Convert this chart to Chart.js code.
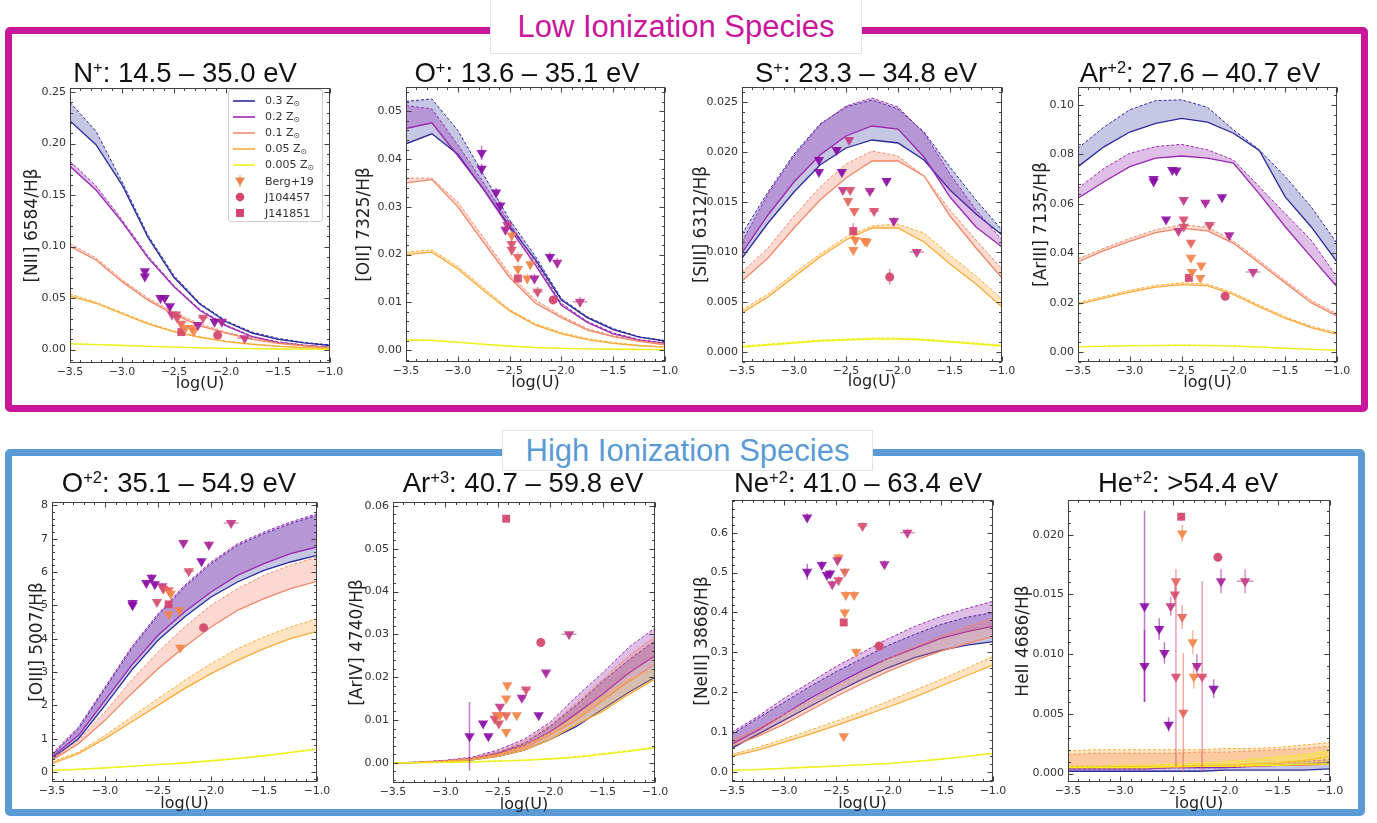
<!DOCTYPE html>
<html><head><meta charset="utf-8">
<script src="https://cdn.jsdelivr.net/npm/chart.js@4.4.1/dist/chart.umd.min.js"></script>
<style>
body{margin:0;width:1377px;height:823px;background:#fff;position:relative;overflow:hidden;font-family:'Liberation Sans',Arial,sans-serif}
.frame{position:absolute;box-sizing:border-box;border-radius:5px}
.hdr{position:absolute;box-sizing:border-box;background:#fff;border:1px solid #e2e2e2;display:flex;align-items:center;justify-content:center;font-size:31px;z-index:3}
.ttl{position:absolute;transform:translate(-50%,-50%);font-size:27.5px;color:#111;white-space:nowrap;line-height:1;z-index:4}
.ttl sup{font-size:60%;vertical-align:0.55em;line-height:0}
canvas{position:absolute;z-index:2}
#legend{position:absolute;box-sizing:border-box;border:1px solid #cfcfcf;border-radius:3px;background:rgba(255,255,255,0.9);font:11px 'DejaVu Sans',sans-serif;color:#333;z-index:5}
#legend .row{position:absolute;left:0;height:14px;display:flex;align-items:center}
#legend sub{font-size:70%;vertical-align:-0.25em}
</style></head><body>
<div class="frame" style="left:5px;top:27px;width:1363px;height:385px;border:7px solid #c8179b"></div>
<div class="frame" style="left:5px;top:449px;width:1360px;height:367px;border:7px solid #5b9bd5"></div>
<div class="hdr" style="left:490px;top:-1px;width:372px;height:55px;color:#c8179b">Low Ionization Species</div>
<div class="hdr" style="left:502px;top:430px;width:371px;height:41px;color:#5b9bd5">High Ionization Species</div>
<script>
// ---------------- DATA ----------------
const LOGU = [-3.5,-3.25,-3.0,-2.75,-2.5,-2.25,-2.0,-1.75,-1.5,-1.25,-1.0];
const X_TICKS = [-3.5,-3.0,-2.5,-2.0,-1.5,-1.0];
const METALS = ['0.3','0.2','0.1','0.05','0.005'];
const POINT_LABELS = ['Berg+19','J104457','J141851'];

// [NII] 6584/Hb  : [upper, lower] per metallicity
const NII_Z03  = [[0.240,0.212,0.163,0.111,0.072,0.045,0.028,0.017,0.011,0.007,0.0045],[0.222,0.199,0.160,0.109,0.070,0.044,0.027,0.016,0.010,0.0065,0.004]];
const NII_Z02  = [[0.183,0.159,0.126,0.091,0.062,0.039,0.024,0.013,0.0075,0.0045,0.0025],[0.178,0.155,0.124,0.089,0.061,0.038,0.023,0.0125,0.007,0.004,0.002]];
const NII_Z01  = [[0.103,0.089,0.068,0.050,0.036,0.025,0.017,0.011,0.0068,0.0042,0.002],[0.100,0.087,0.066,0.048,0.034,0.023,0.016,0.010,0.006,0.0037,0.0017]];
const NII_Z005 = [[0.054,0.046,0.036,0.026,0.018,0.0125,0.0082,0.0055,0.0035,0.002,0.0012],[0.052,0.045,0.035,0.025,0.0172,0.012,0.0078,0.0052,0.0032,0.0018,0.001]];
const NII_Z0005= [[0.006,0.0052,0.0043,0.0034,0.0026,0.0019,0.0014,0.001,0.0007,0.0005,0.0004],[0.0055,0.0048,0.004,0.0031,0.0024,0.0017,0.0012,0.0009,0.0006,0.0004,0.0003]];
const NII_YTICKS = [0,0.05,0.10,0.15,0.20,0.25];
// Berg+19 points: [logU, value, colour index, xerr, yerr]
const NII_BERG = [[-2.78,0.076,0,0.02,0.002],[-2.78,0.071,0,0.02,0.002],[-2.63,0.050,0,0.03,0.001],[-2.59,0.050,0,0.03,0.001],[-2.54,0.042,0,0.02,0.001],[-2.52,0.034,2,0.02,0.001],[-2.48,0.034,3,0.02,0.001],[-2.47,0.031,3,0.02,0.001],[-2.43,0.025,4,0.02,0.001],[-2.39,0.021,5,0.02,0.001],[-2.33,0.021,5,0.03,0.001],[-2.31,0.018,5,0.02,0.001],[-2.27,0.024,1,0.03,0.001],[-2.22,0.031,3,0.05,0.001],[-2.11,0.027,0,0.02,0.001],[-2.04,0.027,1,0.02,0.001],[-1.82,0.011,2,0.07,0.001]];
const NII_J104457 = [-2.08,0.014,0.01,0.001];
const NII_J141851 = [-2.43,0.017,0.01,0.001];

// [OII] 7325/Hb
const OII_Z03  = [[0.0521,0.0526,0.046,0.0367,0.0273,0.0196,0.0108,0.0070,0.0045,0.0028,0.0020],[0.0432,0.0453,0.041,0.0336,0.0259,0.0189,0.0105,0.0068,0.0043,0.0027,0.0019]];
const OII_Z02  = [[0.0512,0.0505,0.043,0.035,0.0266,0.0185,0.0098,0.006,0.0036,0.0022,0.0015],[0.0464,0.0476,0.0407,0.0336,0.0255,0.0178,0.0094,0.0058,0.0034,0.0021,0.0014]];
const OII_Z01  = [[0.036,0.036,0.031,0.0235,0.016,0.0105,0.0072,0.0045,0.003,0.002,0.0013],[0.035,0.0357,0.030,0.0225,0.0152,0.0098,0.0068,0.0042,0.0028,0.0018,0.0011]];
const OII_Z005 = [[0.0205,0.021,0.0175,0.013,0.0085,0.0055,0.0037,0.0024,0.0016,0.001,0.0007],[0.020,0.0205,0.017,0.0125,0.0082,0.0052,0.0034,0.0022,0.0014,0.0009,0.0006]];
const OII_Z0005= [[0.0022,0.0021,0.0017,0.0013,0.0009,0.0006,0.0004,0.0003,0.0002,0.00015,0.0001],[0.0021,0.002,0.0016,0.0012,0.0008,0.0005,0.00035,0.00025,0.00017,0.00012,0.00008]];
const OII_YTICKS = [0,0.01,0.02,0.03,0.04,0.05];
const OII_BERG = [[-2.77,0.0413,0,0.02,0.0015],[-2.77,0.038,0,0.02,0.001],[-2.63,0.033,0,0.02,0.001],[-2.59,0.0303,0,0.02,0.001],[-2.54,0.0252,1,0.02,0.001],[-2.52,0.0262,2,0.02,0.001],[-2.48,0.024,5,0.02,0.001],[-2.48,0.0222,3,0.02,0.001],[-2.48,0.021,3,0.02,0.001],[-2.42,0.0195,4,0.02,0.001],[-2.42,0.017,5,0.02,0.001],[-2.30,0.018,5,0.02,0.001],[-2.33,0.015,5,0.02,0.001],[-2.26,0.015,1,0.03,0.001],[-2.23,0.0122,3,0.05,0.001],[-2.11,0.0195,0,0.02,0.001],[-2.04,0.0183,1,0.02,0.001],[-1.82,0.0101,2,0.07,0.001]];
const OII_J104457 = [-2.08,0.0105,0.01,0.0008];
const OII_J141851 = [-2.42,0.0150,0.01,0.0008];

// [SIII] 6312/Hb
const SIII_Z03  = [[0.0118,0.0160,0.0198,0.0228,0.0245,0.0252,0.0243,0.0220,0.0185,0.0152,0.0122],[0.0094,0.0129,0.0160,0.0187,0.0204,0.0212,0.0209,0.0192,0.0162,0.0138,0.0117]];
const SIII_Z02  = [[0.0110,0.0158,0.0196,0.0227,0.0246,0.0254,0.0245,0.0219,0.0178,0.0142,0.0112],[0.0099,0.0137,0.0170,0.0197,0.0216,0.0226,0.0223,0.0195,0.0155,0.0125,0.0105]];
const SIII_Z01  = [[0.0080,0.0104,0.0136,0.0165,0.0188,0.0201,0.0196,0.0176,0.0142,0.0112,0.0083],[0.0071,0.0094,0.0124,0.0152,0.0174,0.0191,0.0191,0.0176,0.0136,0.0104,0.0074]];
const SIII_Z005 = [[0.0042,0.0058,0.0079,0.0098,0.0115,0.0126,0.0128,0.0119,0.0097,0.0076,0.0053],[0.0039,0.0055,0.0075,0.0095,0.0112,0.0124,0.0124,0.0110,0.0088,0.0068,0.0045]];
const SIII_Z0005= [[0.0006,0.0008,0.0010,0.0012,0.0013,0.0014,0.0014,0.0013,0.0011,0.0009,0.0007],[0.0005,0.0007,0.0009,0.0011,0.0012,0.0013,0.0013,0.0012,0.0010,0.0008,0.0006]];
const SIII_YTICKS = [0,0.005,0.010,0.015,0.020,0.025];
const SIII_BERG = [[-2.76,0.0192,0,0.02,0.0004],[-2.76,0.018,0,0.02,0.0003],[-2.59,0.0202,0,0.03,0.0003],[-2.54,0.018,0,0.02,0.0003],[-2.47,0.0212,2,0.02,0.0003],[-2.53,0.0162,2,0.02,0.0003],[-2.46,0.0162,3,0.02,0.0003],[-2.48,0.0151,4,0.02,0.0003],[-2.42,0.0141,4,0.02,0.0003],[-2.41,0.0112,5,0.02,0.0003],[-2.43,0.0102,5,0.02,0.0003],[-2.32,0.0111,5,0.02,0.0003],[-2.30,0.011,5,0.02,0.0003],[-2.27,0.0161,1,0.04,0.0003],[-2.23,0.0141,3,0.05,0.0003],[-2.11,0.0171,0,0.02,0.0003],[-2.04,0.0131,1,0.02,0.0004],[-1.82,0.010,2,0.07,0.0003]];
const SIII_J104457 = [-2.08,0.0075,0.01,0.0008];
const SIII_J141851 = [-2.43,0.0121,0.01,0.0008];

// [ArIII] 7135/Hb
const ARIII_Z03  = [[0.0824,0.091,0.098,0.1017,0.1020,0.099,0.0899,0.0818,0.071,0.0588,0.044],[0.075,0.083,0.089,0.0925,0.0945,0.093,0.0885,0.0815,0.0628,0.0507,0.0365]];
const ARIII_Z02  = [[0.0662,0.0743,0.0804,0.0831,0.084,0.0818,0.0777,0.0669,0.056,0.0453,0.0304],[0.0622,0.0689,0.075,0.0784,0.0793,0.0784,0.0764,0.064,0.0507,0.0385,0.0264]];
const ARIII_Z01  = [[0.0378,0.042,0.046,0.0495,0.0515,0.0505,0.045,0.037,0.029,0.021,0.0155],[0.0365,0.041,0.0448,0.0483,0.050,0.049,0.044,0.036,0.028,0.020,0.0145]];
const ARIII_Z005 = [[0.020,0.0225,0.025,0.027,0.028,0.0275,0.024,0.019,0.0143,0.0105,0.0078],[0.0193,0.0218,0.0243,0.0263,0.0273,0.0268,0.0233,0.0183,0.0137,0.0099,0.0072]];
const ARIII_Z0005= [[0.0023,0.0025,0.0027,0.0028,0.0029,0.0028,0.0026,0.0022,0.0017,0.0012,0.0008],[0.0021,0.0023,0.0025,0.0026,0.0027,0.0026,0.0024,0.0020,0.0015,0.0011,0.0007]];
const ARIII_YTICKS = [0,0.02,0.04,0.06,0.08,0.10];
const ARIII_BERG = [[-2.77,0.070,0,0.02,0.001],[-2.77,0.069,0,0.02,0.001],[-2.59,0.0736,0,0.03,0.001],[-2.55,0.0734,0,0.02,0.001],[-2.65,0.0536,0,0.02,0.001],[-2.48,0.0615,2,0.03,0.001],[-2.48,0.0536,3,0.02,0.001],[-2.53,0.049,2,0.02,0.001],[-2.48,0.0507,3,0.02,0.001],[-2.41,0.0442,4,0.02,0.001],[-2.41,0.0382,5,0.02,0.001],[-2.40,0.0324,5,0.03,0.001],[-2.31,0.035,5,0.02,0.001],[-2.32,0.030,5,0.02,0.001],[-2.27,0.0604,1,0.04,0.001],[-2.23,0.0514,3,0.05,0.001],[-2.11,0.0626,0,0.02,0.001],[-2.04,0.0473,1,0.02,0.001],[-1.81,0.0324,2,0.07,0.001]];
const ARIII_J104457 = [-2.08,0.0226,0.01,0.001];
const ARIII_J141851 = [-2.43,0.030,0.01,0.001];

// [OIII] 5007/Hb
const OIII_Z03  = [[0.5,1.3,2.5,3.7,4.7,5.55,6.25,6.8,7.15,7.45,7.7],[0.4,1.0,2.0,3.05,3.95,4.65,5.25,5.7,6.05,6.3,6.5]];
const OIII_Z02  = [[0.55,1.35,2.55,3.75,4.75,5.6,6.3,6.85,7.2,7.5,7.75],[0.45,1.1,2.15,3.2,4.1,4.8,5.4,5.9,6.25,6.55,6.75]];
const OIII_Z01  = [[0.4,0.95,1.8,2.75,3.6,4.35,5.0,5.5,5.9,6.2,6.45],[0.35,0.85,1.55,2.35,3.1,3.75,4.35,4.85,5.2,5.5,5.72]];
const OIII_Z005 = [[0.3,0.6,1.1,1.65,2.2,2.75,3.25,3.7,4.05,4.35,4.6],[0.25,0.55,1.0,1.5,2.0,2.5,2.95,3.35,3.7,4.0,4.22]];
const OIII_Z0005= [[0.05,0.09,0.13,0.18,0.23,0.28,0.35,0.42,0.5,0.6,0.7],[0.04,0.08,0.12,0.17,0.22,0.27,0.33,0.4,0.48,0.58,0.68]];
const OIII_YTICKS = [0,1,2,3,4,5,6,7,8];
const OIII_BERG = [[-2.74,5.07,0,0.02,0.1],[-2.74,5.0,0,0.02,0.1],[-2.61,5.67,0,0.02,0.1],[-2.56,5.83,0,0.02,0.1],[-2.53,5.63,0,0.02,0.1],[-2.46,5.57,2,0.02,0.1],[-2.45,5.5,3,0.02,0.1],[-2.51,5.1,3,0.02,0.1],[-2.40,5.45,4,0.02,0.1],[-2.38,5.35,5,0.02,0.1],[-2.40,4.73,5,0.02,0.1],[-2.30,4.85,5,0.02,0.1],[-2.29,3.73,5,0.02,0.1],[-2.26,6.87,1,0.03,0.1],[-2.21,6.02,3,0.05,0.1],[-2.09,6.32,0,0.02,0.1],[-2.02,6.82,1,0.02,0.1],[-1.81,7.47,2,0.07,0.1]];
const OIII_J104457 = [-2.07,4.33,0.01,0.05];
const OIII_J141851 = [-2.40,5.03,0.01,0.05];

// [ArIV] 4740/Hb
const ARIV_Z03  = [[0,0.0001,0.0004,0.0010,0.0025,0.0045,0.0085,0.0135,0.019,0.024,0.0285],[0,0.0001,0.0003,0.0007,0.0015,0.0030,0.0055,0.0085,0.0125,0.0165,0.0200]];
const ARIV_Z02  = [[0,0.0002,0.0006,0.0013,0.0030,0.0055,0.0095,0.0155,0.0210,0.0270,0.0315],[0,0.0001,0.0005,0.0010,0.0022,0.0040,0.0072,0.0115,0.0160,0.0210,0.0250]];
const ARIV_Z01  = [[0,0.0001,0.0005,0.0011,0.0025,0.0050,0.0088,0.0140,0.0195,0.0250,0.0295],[0,0.0001,0.0004,0.0008,0.0018,0.0035,0.0065,0.0100,0.0145,0.0190,0.0230]];
const ARIV_Z005 = [[0,0.0001,0.0004,0.0009,0.0020,0.0040,0.0070,0.0110,0.0155,0.0195,0.0220],[0,0.0001,0.0003,0.0007,0.0015,0.0030,0.0055,0.0090,0.0120,0.0160,0.0195]];
const ARIV_Z0005= [[0,0.0001,0.0002,0.0003,0.0005,0.0007,0.0010,0.0015,0.0022,0.0029,0.0037],[0,0,0.0001,0.0002,0.0004,0.0006,0.0009,0.0013,0.0020,0.0027,0.0035]];
const ARIV_YTICKS = [0,0.01,0.02,0.03,0.04,0.05,0.06];
const ARIV_BERG = [[-2.77,0.0062,0,0.02,0.008],[-2.64,0.0092,0,0.02,0.0004],[-2.59,0.0062,0,0.03,0.0004],[-2.53,0.0103,3,0.02,0.0004],[-2.51,0.0111,4,0.02,0.0004],[-2.48,0.0131,2,0.02,0.0004],[-2.49,0.0092,3,0.02,0.0004],[-2.48,0.0111,5,0.02,0.0004],[-2.42,0.015,5,0.02,0.0004],[-2.41,0.0181,5,0.02,0.0004],[-2.42,0.0111,4,0.02,0.0004],[-2.42,0.0072,5,0.02,0.0004],[-2.32,0.0111,5,0.02,0.0004],[-2.27,0.0152,1,0.04,0.0004],[-2.23,0.0171,3,0.05,0.0004],[-2.11,0.0111,0,0.02,0.0004],[-2.04,0.0211,1,0.02,0.0004],[-1.82,0.030,2,0.07,0.0004]];
const ARIV_J104457 = [-2.09,0.0281,0.01,0.0004];
const ARIV_J141851 = [-2.42,0.057,0.01,0.0006];

// [NeIII] 3868/Hb
const NEIII_Z03  = [[0.095,0.135,0.175,0.215,0.252,0.285,0.318,0.345,0.37,0.388,0.40],[0.06,0.095,0.13,0.165,0.20,0.233,0.262,0.287,0.305,0.318,0.327]];
const NEIII_Z02  = [[0.10,0.14,0.185,0.225,0.265,0.30,0.335,0.365,0.39,0.41,0.428],[0.07,0.105,0.145,0.185,0.22,0.255,0.285,0.31,0.335,0.352,0.365]];
const NEIII_Z01  = [[0.08,0.11,0.145,0.18,0.215,0.25,0.285,0.315,0.34,0.365,0.385],[0.065,0.09,0.12,0.155,0.19,0.222,0.253,0.28,0.303,0.322,0.34]];
const NEIII_Z005 = [[0.045,0.062,0.083,0.105,0.128,0.152,0.178,0.205,0.232,0.26,0.29],[0.04,0.055,0.075,0.095,0.117,0.14,0.163,0.188,0.215,0.242,0.268]];
const NEIII_Z0005= [[0.005,0.007,0.01,0.013,0.016,0.019,0.022,0.027,0.033,0.04,0.048],[0.004,0.006,0.009,0.012,0.015,0.018,0.021,0.026,0.032,0.039,0.046]];
const NEIII_YTICKS = [0,0.1,0.2,0.3,0.4,0.5,0.6];
const NEIII_BERG = [[-2.78,0.638,0,0.02,0.01],[-2.78,0.502,0,0.02,0.02],[-2.64,0.519,0,0.02,0.01],[-2.59,0.494,0,0.03,0.01],[-2.56,0.498,0,0.02,0.01],[-2.54,0.471,2,0.02,0.01],[-2.48,0.481,3,0.02,0.01],[-2.48,0.538,5,0.02,0.01],[-2.49,0.531,2,0.02,0.01],[-2.42,0.502,4,0.02,0.01],[-2.41,0.444,5,0.02,0.01],[-2.42,0.40,5,0.02,0.01],[-2.33,0.444,5,0.03,0.01],[-2.31,0.301,5,0.02,0.01],[-2.43,0.09,5,0.02,0.005],[-2.25,0.617,3,0.05,0.01],[-2.04,0.521,1,0.02,0.01],[-1.82,0.60,2,0.07,0.01]];
const NEIII_J104457 = [-2.09,0.316,0.01,0.005];
const NEIII_J141851 = [-2.43,0.375,0.01,0.005];

// HeII 4686/Hb
const HEII_Z03  = [[0.0004,0.0004,0.0004,0.0004,0.0005,0.0005,0.0005,0.0006,0.0007,0.0008,0.0010],[0.0002,0.0002,0.0002,0.0002,0.0002,0.0002,0.0003,0.0003,0.0003,0.0003,0.0004]];
const HEII_Z02  = [[0.0005,0.0005,0.0005,0.0006,0.0006,0.0006,0.0007,0.0008,0.0009,0.0010,0.0012],[0.0004,0.0004,0.0004,0.0004,0.0005,0.0005,0.0005,0.0006,0.0007,0.0008,0.0009]];
const HEII_Z01  = [[0.0016,0.0017,0.0017,0.0017,0.0017,0.0018,0.0018,0.0019,0.0020,0.0021,0.0023],[0.0005,0.0005,0.0005,0.0005,0.0005,0.0006,0.0006,0.0006,0.0007,0.0007,0.0008]];
const HEII_Z005 = [[0.0019,0.0020,0.0020,0.0020,0.0020,0.0020,0.0021,0.0021,0.0022,0.0024,0.0026],[0.0006,0.0006,0.0006,0.0006,0.0006,0.0007,0.0007,0.0008,0.0009,0.0011,0.0014]];
const HEII_Z0005= [[0.0006,0.0006,0.0007,0.0007,0.0008,0.0009,0.0010,0.0012,0.0014,0.0016,0.0019],[0.0005,0.0005,0.0005,0.0005,0.0006,0.0006,0.0006,0.0007,0.0007,0.0008,0.0008]];
const HEII_YTICKS = [0,0.005,0.010,0.015,0.020];
const HEII_BERG = [[-2.77,0.014,0,0.02,0.008],[-2.77,0.009,0,0.02,0.003],[-2.63,0.0121,0,0.02,0.0009],[-2.58,0.0101,0,0.02,0.0009],[-2.54,0.0041,0,0.02,0.0006],[-2.52,0.014,2,0.02,0.0008],[-2.48,0.015,3,0.02,0.001],[-2.47,0.0161,4,0.02,0.001],[-2.47,0.0081,3,0.02,0.0075],[-2.41,0.0131,4,0.02,0.001],[-2.41,0.0201,5,0.02,0.0007],[-2.40,0.0051,4,0.02,0.005],[-2.31,0.011,5,0.03,0.001],[-2.30,0.0081,5,0.02,0.001],[-2.27,0.009,1,0.03,0.001],[-2.22,0.0081,3,0.05,0.008],[-2.11,0.0071,0,0.02,0.0008],[-2.04,0.0161,1,0.02,0.001],[-1.81,0.0161,2,0.08,0.001]];
const HEII_J104457 = [-2.07,0.0181,0.01,0.0003];
const HEII_J141851 = [-2.42,0.0215,0.01,0.0003];

// ---------------- STYLE / LAYOUT ----------------
const LINE_COLORS = ['#2a2a9a','#9a28b0','#f28b6b','#fbab3a','#efef1a'];
const FILL_COLORS = ['rgba(45,45,160,0.27)','rgba(150,40,175,0.30)','rgba(242,120,90,0.28)','rgba(251,170,60,0.32)','rgba(240,240,30,0.35)'];
const PT_COLORS = ['#8a0ca5','#a8229b','#c13a85','#d5506f','#e6665c','#f38549'];
const J_COLOR = '#d4456e';
const YT_FONT = 17, XT_FONT = 16;

const PANELS = [
 {title:'N<sup>+</sup>: 14.5 – 35.0 eV', tx:185,ty:73, L:70,T:88,R:330,B:363, yOff:38,xOff:20, ymin:-0.013,ymax:0.254, dec:2, ytitle:'[NII] 6584/Hβ', m:[NII_Z03,NII_Z02,NII_Z01,NII_Z005,NII_Z0005], yt:NII_YTICKS, berg:NII_BERG, j1:NII_J104457, j2:NII_J141851},
 {title:'O<sup>+</sup>: 13.6 – 35.1 eV', tx:527,ty:73, L:406,T:87,R:665,B:362, yOff:42,xOff:20, ymin:-0.0025,ymax:0.0551, dec:2, ytitle:'[OII] 7325/Hβ', m:[OII_Z03,OII_Z02,OII_Z01,OII_Z005,OII_Z0005], yt:OII_YTICKS, berg:OII_BERG, j1:OII_J104457, j2:OII_J141851},
 {title:'S<sup>+</sup>: 23.3 – 34.8 eV', tx:866,ty:73, L:742,T:87,R:1002,B:362, yOff:41,xOff:19, ymin:-0.001,ymax:0.0265, dec:3, ytitle:'[SIII] 6312/Hβ', m:[SIII_Z03,SIII_Z02,SIII_Z01,SIII_Z005,SIII_Z0005], yt:SIII_YTICKS, berg:SIII_BERG, j1:SIII_J104457, j2:SIII_J141851},
 {title:'Ar<sup>+2</sup>: 27.6 – 40.7 eV', tx:1200,ty:73, L:1078,T:87,R:1337,B:362, yOff:37,xOff:20, ymin:-0.004,ymax:0.1072, dec:2, ytitle:'[ArIII] 7135/Hβ', m:[ARIII_Z03,ARIII_Z02,ARIII_Z01,ARIII_Z005,ARIII_Z0005], yt:ARIII_YTICKS, berg:ARIII_BERG, j1:ARIII_J104457, j2:ARIII_J141851},
 {title:'O<sup>+2</sup>: 35.1 – 54.9 eV', tx:179,ty:483, L:52,T:502,R:317,B:782, yOff:15,xOff:21, ymin:-0.3,ymax:8.1, dec:0, ytitle:'[OIII] 5007/Hβ', m:[OIII_Z03,OIII_Z02,OIII_Z01,OIII_Z005,OIII_Z0005], yt:OIII_YTICKS, berg:OIII_BERG, j1:OIII_J104457, j2:OIII_J141851},
 {title:'Ar<sup>+3</sup>: 40.7 – 59.8 eV', tx:523,ty:483, L:393,T:502,R:655,B:783, yOff:36,xOff:21, ymin:-0.0047,ymax:0.0609, dec:2, ytitle:'[ArIV] 4740/Hβ', m:[ARIV_Z03,ARIV_Z02,ARIV_Z01,ARIV_Z005,ARIV_Z0005], yt:ARIV_YTICKS, berg:ARIV_BERG, j1:ARIV_J104457, j2:ARIV_J141851},
 {title:'Ne<sup>+2</sup>: 41.0 – 63.4 eV', tx:858,ty:483, L:732,T:500,R:993,B:782, yOff:30,xOff:21, ymin:-0.025,ymax:0.682, dec:1, ytitle:'[NeIII] 3868/Hβ', m:[NEIII_Z03,NEIII_Z02,NEIII_Z01,NEIII_Z005,NEIII_Z0005], yt:NEIII_YTICKS, berg:NEIII_BERG, j1:NEIII_J104457, j2:NEIII_J141851},
 {title:'He<sup>+2</sup>: &gt;54.4 eV', tx:1188,ty:483, L:1068,T:500,R:1330,B:782, yOff:45,xOff:21, ymin:-0.0007,ymax:0.0229, dec:3, ytitle:'HeII 4686/Hβ', m:[HEII_Z03,HEII_Z02,HEII_Z01,HEII_Z005,HEII_Z0005], yt:HEII_YTICKS, berg:HEII_BERG, j1:HEII_J104457, j2:HEII_J141851}
];

// ---------------- PLUGINS ----------------
const fmt = (v,d) => (Math.abs(v) < 1e-12 ? 0 : v).toFixed(d).replace('-', '\u2212');

const errPlugin = {
  id:'errbars',
  beforeDatasetDraw(chart, args) {
    const d = chart.data.datasets[args.index];
    if (!d.errs) return;
    const {ctx, chartArea:a, scales:{x, y}} = chart;
    ctx.save();
    ctx.beginPath(); ctx.rect(a.left, a.top, a.right - a.left, a.bottom - a.top); ctx.clip();
    ctx.lineWidth = 1.5;
    d.data.forEach((pt, i) => {
      const e = d.errs[i];
      ctx.strokeStyle = d.errColors[i];
      const px = x.getPixelForValue(pt.x), py = y.getPixelForValue(pt.y);
      ctx.beginPath();
      ctx.moveTo(x.getPixelForValue(pt.x - e[0]), py); ctx.lineTo(x.getPixelForValue(pt.x + e[0]), py);
      ctx.moveTo(px, y.getPixelForValue(pt.y - e[1])); ctx.lineTo(px, y.getPixelForValue(pt.y + e[1]));
      ctx.stroke();
    });
    ctx.restore();
  }
};

const framePlugin = {
  id:'mplframe',
  afterDatasetsDraw(chart) {
    const {ctx, chartArea:a, scales:{x, y}} = chart;
    ctx.save();
    ctx.strokeStyle = '#404040'; ctx.lineWidth = 1;
    const l = Math.round(a.left) + 0.5, r = Math.round(a.right) - 0.5, t = Math.round(a.top) + 0.5, b = Math.round(a.bottom) - 0.5;
    ctx.strokeRect(l, t, r - l, b - t);
    const ticks = (scale, horiz) => {
      const vals = scale.ticks.map(tk => tk.value);
      const step = vals[1] - vals[0], ms = step / 5;
      const k0 = Math.ceil((scale.min - 1e-9) / ms), k1 = Math.floor((scale.max + 1e-9) / ms);
      for (let k = k0; k <= k1; k++) {
        const v = k * ms;
        const major = Math.abs(v / step - Math.round(v / step)) < 1e-6;
        const len = major ? 5 : 2.5;
        const p = Math.round(scale.getPixelForValue(v)) + 0.5;
        ctx.beginPath();
        if (horiz) { ctx.moveTo(p, b); ctx.lineTo(p, b - len); ctx.moveTo(p, t); ctx.lineTo(p, t + len); }
        else { ctx.moveTo(l, p); ctx.lineTo(l + len, p); ctx.moveTo(r, p); ctx.lineTo(r - len, p); }
        ctx.stroke();
      }
    };
    ticks(x, true); ticks(y, false);
    ctx.restore();
  }
};

Chart.defaults.font.family = "'DejaVu Sans', sans-serif";
Chart.defaults.color = '#333';

function alpha(hex, a) {
  const n = parseInt(hex.slice(1), 16);
  return `rgba(${n >> 16},${(n >> 8) & 255},${n & 255},${a})`;
}

// ---------------- BUILD ----------------
PANELS.forEach(p => {
  const t = document.createElement('div');
  t.className = 'ttl'; t.innerHTML = p.title;
  t.style.left = p.tx + 'px'; t.style.top = p.ty + 'px';
  document.body.appendChild(t);

  const W = Math.round(p.yOff + YT_FONT * 0.6), HX = Math.round(p.xOff + XT_FONT * 0.6), PT = 14, PR = 18;
  const cw = W + (p.R - p.L) + PR, chh = PT + (p.B - p.T) + HX;
  const c = document.createElement('canvas');
  c.width = cw; c.height = chh;
  c.style.left = (p.L - W) + 'px'; c.style.top = (p.T - PT) + 'px';
  c.style.width = cw + 'px'; c.style.height = chh + 'px';
  document.body.appendChild(c);

  const ds = [];
  p.m.forEach((pair, mi) => {
    const ord = 10 - mi;
    ds.push({type:'line', label:METALS[mi] + ' Z⊙ upper', data: LOGU.map((x, i) => ({x, y: pair[0][i]})),
      borderColor: LINE_COLORS[mi], borderWidth: 1, borderDash:[3,2], backgroundColor: FILL_COLORS[mi],
      fill:'+1', pointRadius:0, pointHoverRadius:0, tension:0, order: ord});
    ds.push({type:'line', label:METALS[mi] + ' Z⊙', data: LOGU.map((x, i) => ({x, y: pair[1][i]})),
      borderColor: LINE_COLORS[mi], borderWidth: 1.3, fill:false, pointRadius:0, pointHoverRadius:0, tension:0, order: ord});
  });
  const bc = p.berg.map(b => alpha(PT_COLORS[b[2]], 0.9));
  ds.push({type:'scatter', label:POINT_LABELS[0], data: p.berg.map(b => ({x:b[0], y:b[1]})),
    pointStyle:'triangle', pointRotation:180, pointRadius:6, pointHoverRadius:6,
    pointBackgroundColor: bc, pointBorderColor: bc, pointBorderWidth:0, order:0,
    errs: p.berg.map(b => [b[3], b[4]]), errColors: p.berg.map(b => alpha(PT_COLORS[b[2]], 0.55))});
  ds.push({type:'scatter', label:POINT_LABELS[1], data:[{x:p.j1[0], y:p.j1[1]}],
    pointStyle:'circle', pointRadius:4.5, pointHoverRadius:4.5, pointBackgroundColor: alpha(J_COLOR,0.92), pointBorderWidth:0, order:0,
    errs:[[p.j1[2], p.j1[3]]], errColors:[alpha(J_COLOR,0.55)]});
  ds.push({type:'scatter', label:POINT_LABELS[2], data:[{x:p.j2[0], y:p.j2[1]}],
    pointStyle:'rect', pointRadius:5.6, pointHoverRadius:5.6, pointBackgroundColor: alpha(J_COLOR,0.92), pointBorderWidth:0, order:0,
    errs:[[p.j2[2], p.j2[3]]], errColors:[alpha(J_COLOR,0.55)]});

  new Chart(c, {
    type:'scatter',
    data:{datasets: ds},
    plugins:[errPlugin, framePlugin],
    options:{
      responsive:false, animation:false, events:[],
      layout:{padding:{top:PT, right:PR, left:0, bottom:0}},
      plugins:{legend:{display:false}, tooltip:{enabled:false}},
      scales:{
        x:{type:'linear', min:-3.5, max:-1.0,
           afterBuildTicks: s => { s.ticks = X_TICKS.map(v => ({value:v})); },
           afterFit: s => { s.height = HX; },
           grid:{display:false, drawTicks:false}, border:{display:false},
           ticks:{padding:3, font:{size:11}, color:'#333', maxRotation:0, callback: v => fmt(v, 1)},
           title:{display:true, text:'log(U)', font:{size:XT_FONT}, color:'#222', padding:0}},
        y:{type:'linear', min:p.ymin, max:p.ymax,
           afterBuildTicks: s => { s.ticks = p.yt.map(v => ({value:v})); },
           afterFit: s => { s.width = W; },
           grid:{display:false, drawTicks:false}, border:{display:false},
           ticks:{padding:4, font:{size:11}, color:'#333', callback: v => fmt(v, p.dec)},
           title:{display:true, text:p.ytitle, font:{size:YT_FONT}, color:'#222', padding:0}}
      }
    }
  });
});

// legend (first panel)
const lg = document.createElement('div');
lg.id = 'legend';
lg.style.cssText = 'left:228px;top:89px;width:95px;height:133px';
const rows = [];
METALS.forEach((m, i) => rows.push({kind:'line', color: LINE_COLORS[i], html: m + ' Z<sub>⊙</sub>'}));
rows.push({kind:'tri', color: PT_COLORS[5], html: POINT_LABELS[0]});
rows.push({kind:'circ', color: J_COLOR, html: POINT_LABELS[1]});
rows.push({kind:'sq', color: J_COLOR, html: POINT_LABELS[2]});
rows.forEach((r, i) => {
  const d = document.createElement('div');
  d.className = 'row';
  d.style.top = (4 + i * 16) + 'px';
  let sym;
  if (r.kind === 'line') sym = `<svg width="26" height="14"><line x1="4" y1="7" x2="28" y2="7" stroke="${r.color}" stroke-width="1.6"/></svg>`;
  else if (r.kind === 'tri') sym = `<svg width="26" height="14"><polygon points="11,12 6,3.5 16,3.5" fill="${r.color}"/><line x1="11" y1="1" x2="11" y2="13" stroke="${r.color}" stroke-width="1.3" opacity="0.6"/></svg>`;
  else if (r.kind === 'circ') sym = `<svg width="26" height="14"><circle cx="11" cy="7" r="4.3" fill="${r.color}"/></svg>`;
  else sym = `<svg width="26" height="14"><rect x="7" y="3" width="8" height="8" fill="${r.color}"/></svg>`;
  d.innerHTML = sym + `<span style="margin-left:10px">${r.html}</span>`;
  lg.appendChild(d);
});
document.body.appendChild(lg);
</script>
</body></html>
